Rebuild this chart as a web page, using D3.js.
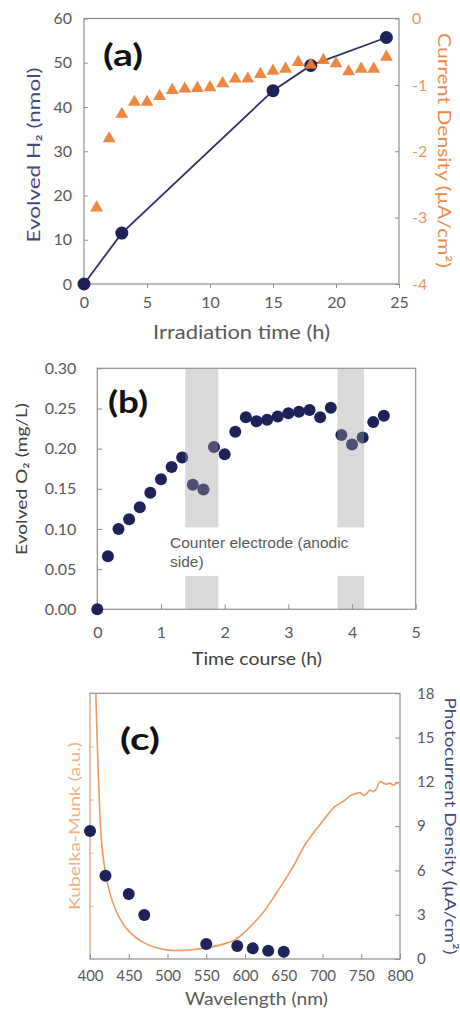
<!DOCTYPE html>
<html><head><meta charset="utf-8">
<script src="https://cdn.jsdelivr.net/npm/d3@7"></script>
<style>html,body{margin:0;padding:0;background:#fff}svg{display:block}</style>
</head><body>
<svg id="fig" width="460" height="1010"></svg>
<script>
// ---- (a) evolved H2 and current density vs irradiation time ----
const h2Hours = [0, 3, 15, 18, 24];
const h2Nmol = [0, 11.5, 43.7, 49.4, 55.7];
const jHours = [1, 2, 3, 4, 5, 6, 7, 8, 9, 10, 11, 12, 13, 14, 15, 16, 17, 18, 19, 20, 21, 22, 23, 24];
const jValues = [-2.85, -1.81, -1.44, -1.26, -1.26, -1.17, -1.08, -1.06, -1.05, -1.04, -0.98, -0.91,
                 -0.91, -0.84, -0.79, -0.76, -0.66, -0.70, -0.63, -0.68, -0.80, -0.76, -0.76, -0.58];
const aTimeTicks = [0, 5, 10, 15, 20, 25];
const aH2Ticks = [0, 10, 20, 30, 40, 50, 60];
const aJTicks = [0, -1, -2, -3, -4];

// ---- (b) evolved O2 over the time course ----
const o2Hours = [0, 0.167, 0.333, 0.5, 0.667, 0.833, 1.0, 1.167, 1.333, 1.5, 1.667, 1.833, 2.0, 2.167,
                 2.333, 2.5, 2.667, 2.833, 3.0, 3.167, 3.333, 3.5, 3.667, 3.833, 4.0, 4.167, 4.333, 4.5];
const o2Values = [0, 0.066, 0.100, 0.112, 0.127, 0.145, 0.162, 0.177, 0.189, 0.155, 0.149, 0.202, 0.193, 0.221,
                  0.239, 0.234, 0.236, 0.240, 0.244, 0.246, 0.248, 0.239, 0.251, 0.217, 0.205, 0.214, 0.233, 0.241];
const bandStart = [1.38, 3.77];
const bandEnd = [1.90, 4.19];
const bTimeTicks = [0, 1, 2, 3, 4, 5];
const bO2Ticks = [0, 0.05, 0.10, 0.15, 0.20, 0.25, 0.30];
const noteLines = ["Counter electrode (anodic", "side)"];

// ---- (c) Kubelka-Munk spectrum and photocurrent action spectrum ----
const kmWavelength = [407.5, 408.6, 410.7, 412.9, 415.1, 419.4, 425.8, 434.5, 447.4, 464.5, 486.1, 507.5, 529,
                      550.6, 572, 587.1, 600, 612.9, 625.8, 638.7, 651.6, 664.5, 677.4, 686.1, 694.6, 703.2,
                      716.1, 722.6, 729, 735.5, 741.9, 748.4, 752.7, 757, 761.3, 765.6, 769.9, 774.2, 778.5,
                      782.8, 787.1, 791.4, 795.7, 800];
const kmValues = [5.0, 4.43, 3.49, 2.67, 2.18, 1.67, 1.23, 0.88, 0.57, 0.35, 0.21, 0.16, 0.17,
                  0.21, 0.28, 0.36, 0.51, 0.70, 0.92, 1.20, 1.49, 1.80, 2.15, 2.33, 2.49, 2.65,
                  2.87, 2.93, 2.99, 3.07, 3.11, 3.13, 3.08, 3.11, 3.18, 3.15, 3.21, 3.34, 3.31,
                  3.29, 3.31, 3.27, 3.31, 3.32];
const pcWavelength = [400, 420, 450, 470, 550, 590, 610, 630, 650];
const pcValues = [8.67, 5.64, 4.40, 2.98, 1.02, 0.88, 0.72, 0.56, 0.49];
const cWlTicks = [400, 450, 500, 550, 600, 650, 700, 750, 800];
const cPcTicks = [0, 3, 6, 9, 12, 15, 18];
const cKmTicks = [1, 2, 3, 4];

const NAVY = "#1d2259";
const ORANGE = "#ed7d31";
const AXIS = "#8f8f8f";
const TICKTXT = "#595959";
const FONT = "Lato, 'Open Sans', sans-serif";
const plain = d => String(d);

const svg = d3.select("#fig");
svg.append("rect").attr("width", 460).attr("height", 1010).attr("fill", "#fff");

function styleAxis(g, color, size) {
  g.select(".domain").remove();
  g.selectAll(".tick line").attr("stroke", AXIS).attr("stroke-width", 1);
  g.selectAll(".tick text").attr("fill", color).attr("font-family", FONT).attr("font-size", size);
}
function frame(x0, x1, y0, y1) {
  svg.append("rect").attr("x", x0).attr("y", y1).attr("width", x1 - x0).attr("height", y0 - y1)
    .attr("fill", "none").attr("stroke", AXIS).attr("stroke-width", 1.2);
}
// axis title, stretched to the span it occupies along its axis
function title(x, y, text, o) {
  return svg.append("text")
    .attr("transform", `translate(${x},${y}) rotate(${o.rotate || 0})`)
    .attr("x", -o.len / 2)
    .attr("textLength", o.len).attr("lengthAdjust", "spacingAndGlyphs")
    .attr("font-family", FONT).attr("font-size", o.size).attr("fill", o.color)
    .text(text);
}
function panelLabel(x, y, text) {
  svg.append("text").attr("x", x).attr("y", y).text(text)
    .attr("textLength", 40).attr("lengthAdjust", "spacingAndGlyphs")
    .attr("font-family", FONT).attr("font-weight", "bold").attr("font-size", 30).attr("fill", "#111");
}

// ================= (a) =================
const ax = d3.scaleLinear().domain([0, 25]).range([84, 399]);
const ayL = d3.scaleLinear().domain([0, 60]).range([284, 18.5]);
const ayR = d3.scaleLinear().domain([-4, 0]).range([284, 18.5]);

frame(84, 399, 284, 18.5);
svg.append("g").attr("transform", "translate(0,284)")
  .call(d3.axisBottom(ax).tickValues(aTimeTicks).tickFormat(plain).tickSizeInner(4).tickSizeOuter(0).tickPadding(9))
  .call(g => styleAxis(g, TICKTXT, 16));
svg.append("g").attr("transform", "translate(84,0)")
  .call(d3.axisLeft(ayL).tickValues(aH2Ticks).tickFormat(plain).tickSizeInner(-4).tickSizeOuter(0).tickPadding(12))
  .call(g => styleAxis(g, TICKTXT, 16));
svg.append("g").attr("transform", "translate(399,0)")
  .call(d3.axisRight(ayR).tickValues(aJTicks).tickFormat(plain).tickSizeInner(-4).tickSizeOuter(0).tickPadding(13))
  .call(g => styleAxis(g, "#f0945e", 16));

const h2 = d3.zip(h2Hours, h2Nmol);
svg.append("path").datum(h2)
  .attr("d", d3.line().x(d => ax(d[0])).y(d => ayL(d[1])))
  .attr("fill", "none").attr("stroke", "#2e3366").attr("stroke-width", 1.8);
svg.append("g").selectAll("circle").data(h2).join("circle")
  .attr("cx", d => ax(d[0])).attr("cy", d => ayL(d[1])).attr("r", 6.5).attr("fill", NAVY);
svg.append("g").selectAll("path").data(d3.zip(jHours, jValues)).join("path")
  .attr("transform", d => `translate(${ax(d[0])},${ayR(d[1])})`)
  .attr("d", d3.symbol().type(d3.symbolTriangle).size(72))
  .attr("fill", ORANGE).attr("fill-opacity", 0.92);

panelLabel(103, 66, "(a)");
title(241.5, 339, "Irradiation time (h)", {size: 19, len: 177, color: TICKTXT});
title(40, 155, "Evolved H₂ (nmol)", {size: 16.5, len: 175, color: "#474a7c", rotate: -90});
title(438, 150.5, "Current Density (µA/cm²)", {size: 16.5, len: 235, color: "#f08a4b", rotate: 90});

// ================= (b) =================
const bx = d3.scaleLinear().domain([0, 5]).range([97.3, 415.7]);
const by = d3.scaleLinear().domain([0, 0.3]).range([609.3, 368.3]);

frame(97.3, 415.7, 609.3, 368.3);
svg.append("g").attr("transform", "translate(0,609.3)")
  .call(d3.axisBottom(bx).tickValues(bTimeTicks).tickFormat(plain).tickSizeInner(-5).tickSizeOuter(0).tickPadding(17))
  .call(g => styleAxis(g, TICKTXT, 16));
svg.append("g").attr("transform", "translate(97.3,0)")
  .call(d3.axisLeft(by).tickValues(bO2Ticks).tickFormat(d3.format(".2f")).tickSizeInner(-5).tickSizeOuter(0).tickPadding(21))
  .call(g => styleAxis(g, TICKTXT, 16));

svg.append("g").selectAll("circle").data(d3.zip(o2Hours, o2Values)).join("circle")
  .attr("cx", d => bx(d[0])).attr("cy", d => by(d[1])).attr("r", 6).attr("fill", NAVY);

// light grey bands marking the periods with the counter electrode on the anodic side
svg.append("g").selectAll("rect").data(d3.zip(bandStart, bandEnd)).join("rect")
  .attr("x", d => bx(d[0])).attr("width", d => bx(d[1]) - bx(d[0]))
  .attr("y", by(0.3)).attr("height", by(0) - by(0.3))
  .attr("fill", "#9c9c9c").attr("fill-opacity", 0.38);
// white note box cutting through the bands
svg.append("rect").attr("x", bx(1.3)).attr("width", bx(4.25) - bx(1.3))
  .attr("y", by(0.102)).attr("height", by(0.0415) - by(0.102)).attr("fill", "#fff");
svg.append("g").selectAll("text").data(noteLines).join("text")
  .attr("x", 170).attr("y", (d, i) => 548 + i * 18.5).text(d => d)
  .attr("font-family", "'Liberation Sans', Arial, sans-serif").attr("font-size", 15.5).attr("fill", "#595959");

panelLabel(108, 413, "(b)");
title(257, 665, "Time course (h)", {size: 18, len: 130, color: "#404040"});
title(27, 479, "Evolved O₂ (mg/L)", {size: 15.5, len: 152, color: "#404040", rotate: -90});

// ================= (c) =================
const cx = d3.scaleLinear().domain([400, 800]).range([90, 400]);
const cyR = d3.scaleLinear().domain([0, 18]).range([959, 693.3]);
const cyL = d3.scaleLinear().domain([0, 5]).range([959, 693.3]);

frame(90, 400, 959, 693.3);
svg.append("line").attr("x1", 90).attr("x2", 90).attr("y1", 693.3).attr("y2", 959)
  .attr("stroke", "#f4c7a4").attr("stroke-width", 1.4);
svg.append("g").attr("transform", "translate(0,959)")
  .call(d3.axisBottom(cx).tickValues(cWlTicks).tickFormat(plain).tickSizeInner(-5).tickSizeOuter(0).tickPadding(11))
  .call(g => styleAxis(g, TICKTXT, 15));
svg.append("g").attr("transform", "translate(400,0)")
  .call(d3.axisRight(cyR).tickValues(cPcTicks).tickFormat(plain).tickSizeInner(-5).tickSizeOuter(0).tickPadding(17))
  .call(g => styleAxis(g, TICKTXT, 15));
svg.append("g").attr("transform", "translate(90,0)")
  .call(d3.axisLeft(cyL).tickValues(cKmTicks).tickFormat("").tickSizeInner(-4).tickSizeOuter(0))
  .call(g => { g.select(".domain").remove(); g.selectAll(".tick line").attr("stroke", "#f2b68a"); });

svg.append("clipPath").attr("id", "clipC").append("rect")
  .attr("x", 90).attr("y", 693.3).attr("width", 310).attr("height", 265.7);
svg.append("path").datum(d3.zip(kmWavelength, kmValues))
  .attr("clip-path", "url(#clipC)")
  .attr("d", d3.line().x(d => cx(d[0])).y(d => cyL(d[1])).curve(d3.curveMonotoneX))
  .attr("fill", "none").attr("stroke", "#ee9a5c").attr("stroke-width", 1.6);
svg.append("g").selectAll("circle").data(d3.zip(pcWavelength, pcValues)).join("circle")
  .attr("cx", d => cx(d[0])).attr("cy", d => cyR(d[1])).attr("r", 6).attr("fill", NAVY);

panelLabel(120, 750, "(c)");
title(256.5, 1005, "Wavelength (nm)", {size: 18, len: 143, color: TICKTXT});
title(80, 826, "Kubelka-Munk (a.u.)", {size: 16, len: 168, color: "#f4b183", rotate: -90});
title(445, 826, "Photocurrent Density (µA/cm²)", {size: 16, len: 257, color: "#44477a", rotate: 90});
</script>
</body></html>
